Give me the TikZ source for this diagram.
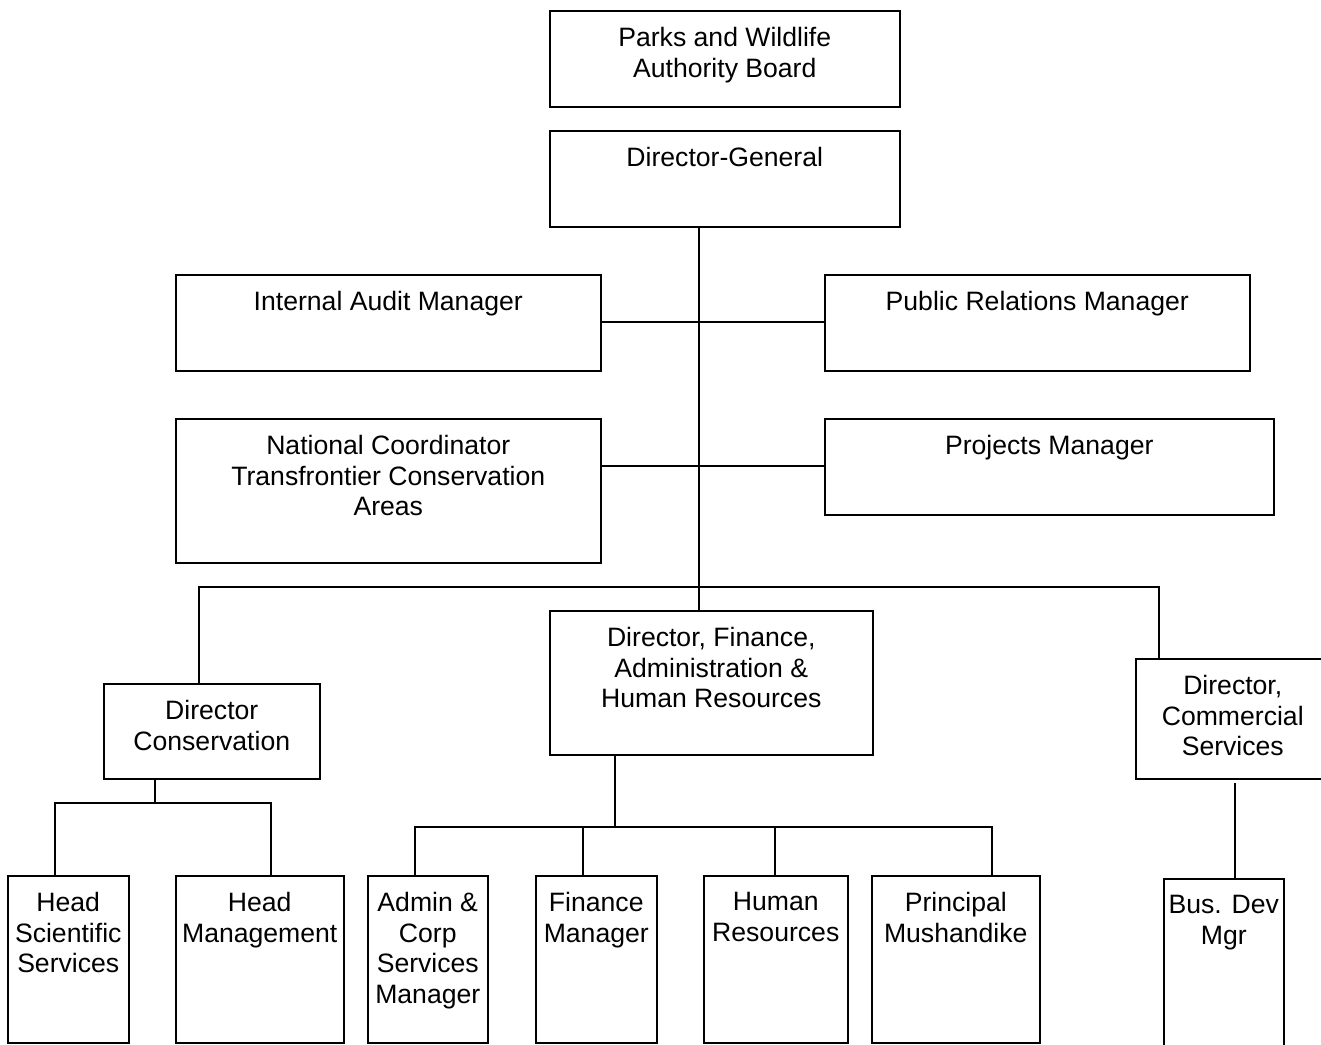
\documentclass[tikz,border=0pt]{standalone}
\usepackage{fontspec}
\setmainfont{Liberation Sans}
\begin{document}
\begin{tikzpicture}[x=1pt,y=-1pt, line width=1.5pt,
  box/.style={draw=black, line width=1.5pt, rectangle, inner sep=0pt, anchor=north west},
  lab/.style={anchor=north, align=center, inner sep=0pt, yshift=-16.5pt,
    font=\fontsize{26.6}{30.6}\selectfont},
  conn/.style={draw=black, line width=1.5pt}]
\useasboundingbox (0,0) rectangle (1321,1044);
\begin{scope}
\clip (0,0) rectangle (1321,1044);
% boxes
\node[box, minimum width=350, minimum height=96, label={[lab]north:{Parks and Wildlife\\Authority Board}}] (board) at (549,10) {};
\node[box, minimum width=350, minimum height=96, label={[lab]north:{Director-General}}] (dg) at (549,130) {};
\node[box, minimum width=425, minimum height=96, label={[lab]north:{Internal Audit Manager}}] (audit) at (175,274) {};
\node[box, minimum width=425, minimum height=96, label={[lab]north:{Public Relations Manager}}] (pr) at (824,274) {};
\node[box, minimum width=425, minimum height=144, label={[lab]north:{National Coordinator\\Transfrontier Conservation\\Areas}}] (natc) at (175,418) {};
\node[box, minimum width=449, minimum height=96, label={[lab]north:{Projects Manager}}] (proj) at (824,418) {};
\node[box, minimum width=323, minimum height=144, label={[lab]north:{Director, Finance,\\Administration \&\\Human Resources}}] (dfin) at (549,610) {};
\node[box, minimum width=216, minimum height=95, label={[lab]north:{Director\\Conservation}}] (dcons) at (103,683) {};
\node[box, minimum width=194, minimum height=120, label={[lab]north:{Director,\\Commercial\\Services}}] (dcom) at (1135,658) {};
\node[box, minimum width=121, minimum height=167, label={[lab]north:{Head\\Scientific\\Services}}] (hss) at (7,875) {};
\node[box, minimum width=168, minimum height=167, label={[lab]north:{Head\\Management}}] (hm) at (175,875) {};
\node[box, minimum width=120, minimum height=167, label={[lab]north:{Admin \&\\Corp\\Services\\Manager}}] (admin) at (367,875) {};
\node[box, minimum width=121, minimum height=167, label={[lab]north:{Finance\\Manager}}] (fm) at (535,875) {};
\node[box, minimum width=144, minimum height=167, label={[lab]north:{Human\\Resources}}] (hr) at (703,875) {};
\node[box, minimum width=168, minimum height=167, label={[lab]north:{Principal\\Mushandike}}] (pm) at (871,875) {};
\node[box, minimum width=120, minimum height=190, label={[lab]north:{Bus. Dev\\Mgr}}] (bdm) at (1163,878) {};

% junction coordinates
\coordinate (j1) at (699,322);
\coordinate (j2) at (699,466);
\coordinate (j3) at (699,587);
\coordinate (consTop) at (199,683);
\coordinate (comTop) at (1159,658);
\coordinate (consJ) at (155,803);
\coordinate (finJ) at (615,827);
\coordinate (comStart) at (1235,783);

% trunk
\draw[conn] (dg.south -| j1) -- (dfin.north -| j1);
\draw[conn] (audit.east |- j1) -- (pr.west |- j1);
\draw[conn] (natc.east |- j2) -- (proj.west |- j2);
\draw[conn] (consTop) |- (j3) -| (comTop);

% conservation children
\draw[conn] (dcons.south -| consJ) -- (consJ);
\draw[conn] (hss.north -| 55,0) |- (consJ) -| (hm.north -| 271,0);

% finance children
\draw[conn] (dfin.south -| finJ) -- (finJ);
\draw[conn] (admin.north -| 415,0) |- (finJ) -| (pm.north -| 992,0);
\draw[conn] (fm.north -| 583,0) -- (finJ -| 583,0);
\draw[conn] (hr.north -| 775,0) -- (finJ -| 775,0);

% commercial child
\draw[conn] (comStart) -- (bdm.north -| comStart);
\end{scope}
\end{tikzpicture}
\end{document}
